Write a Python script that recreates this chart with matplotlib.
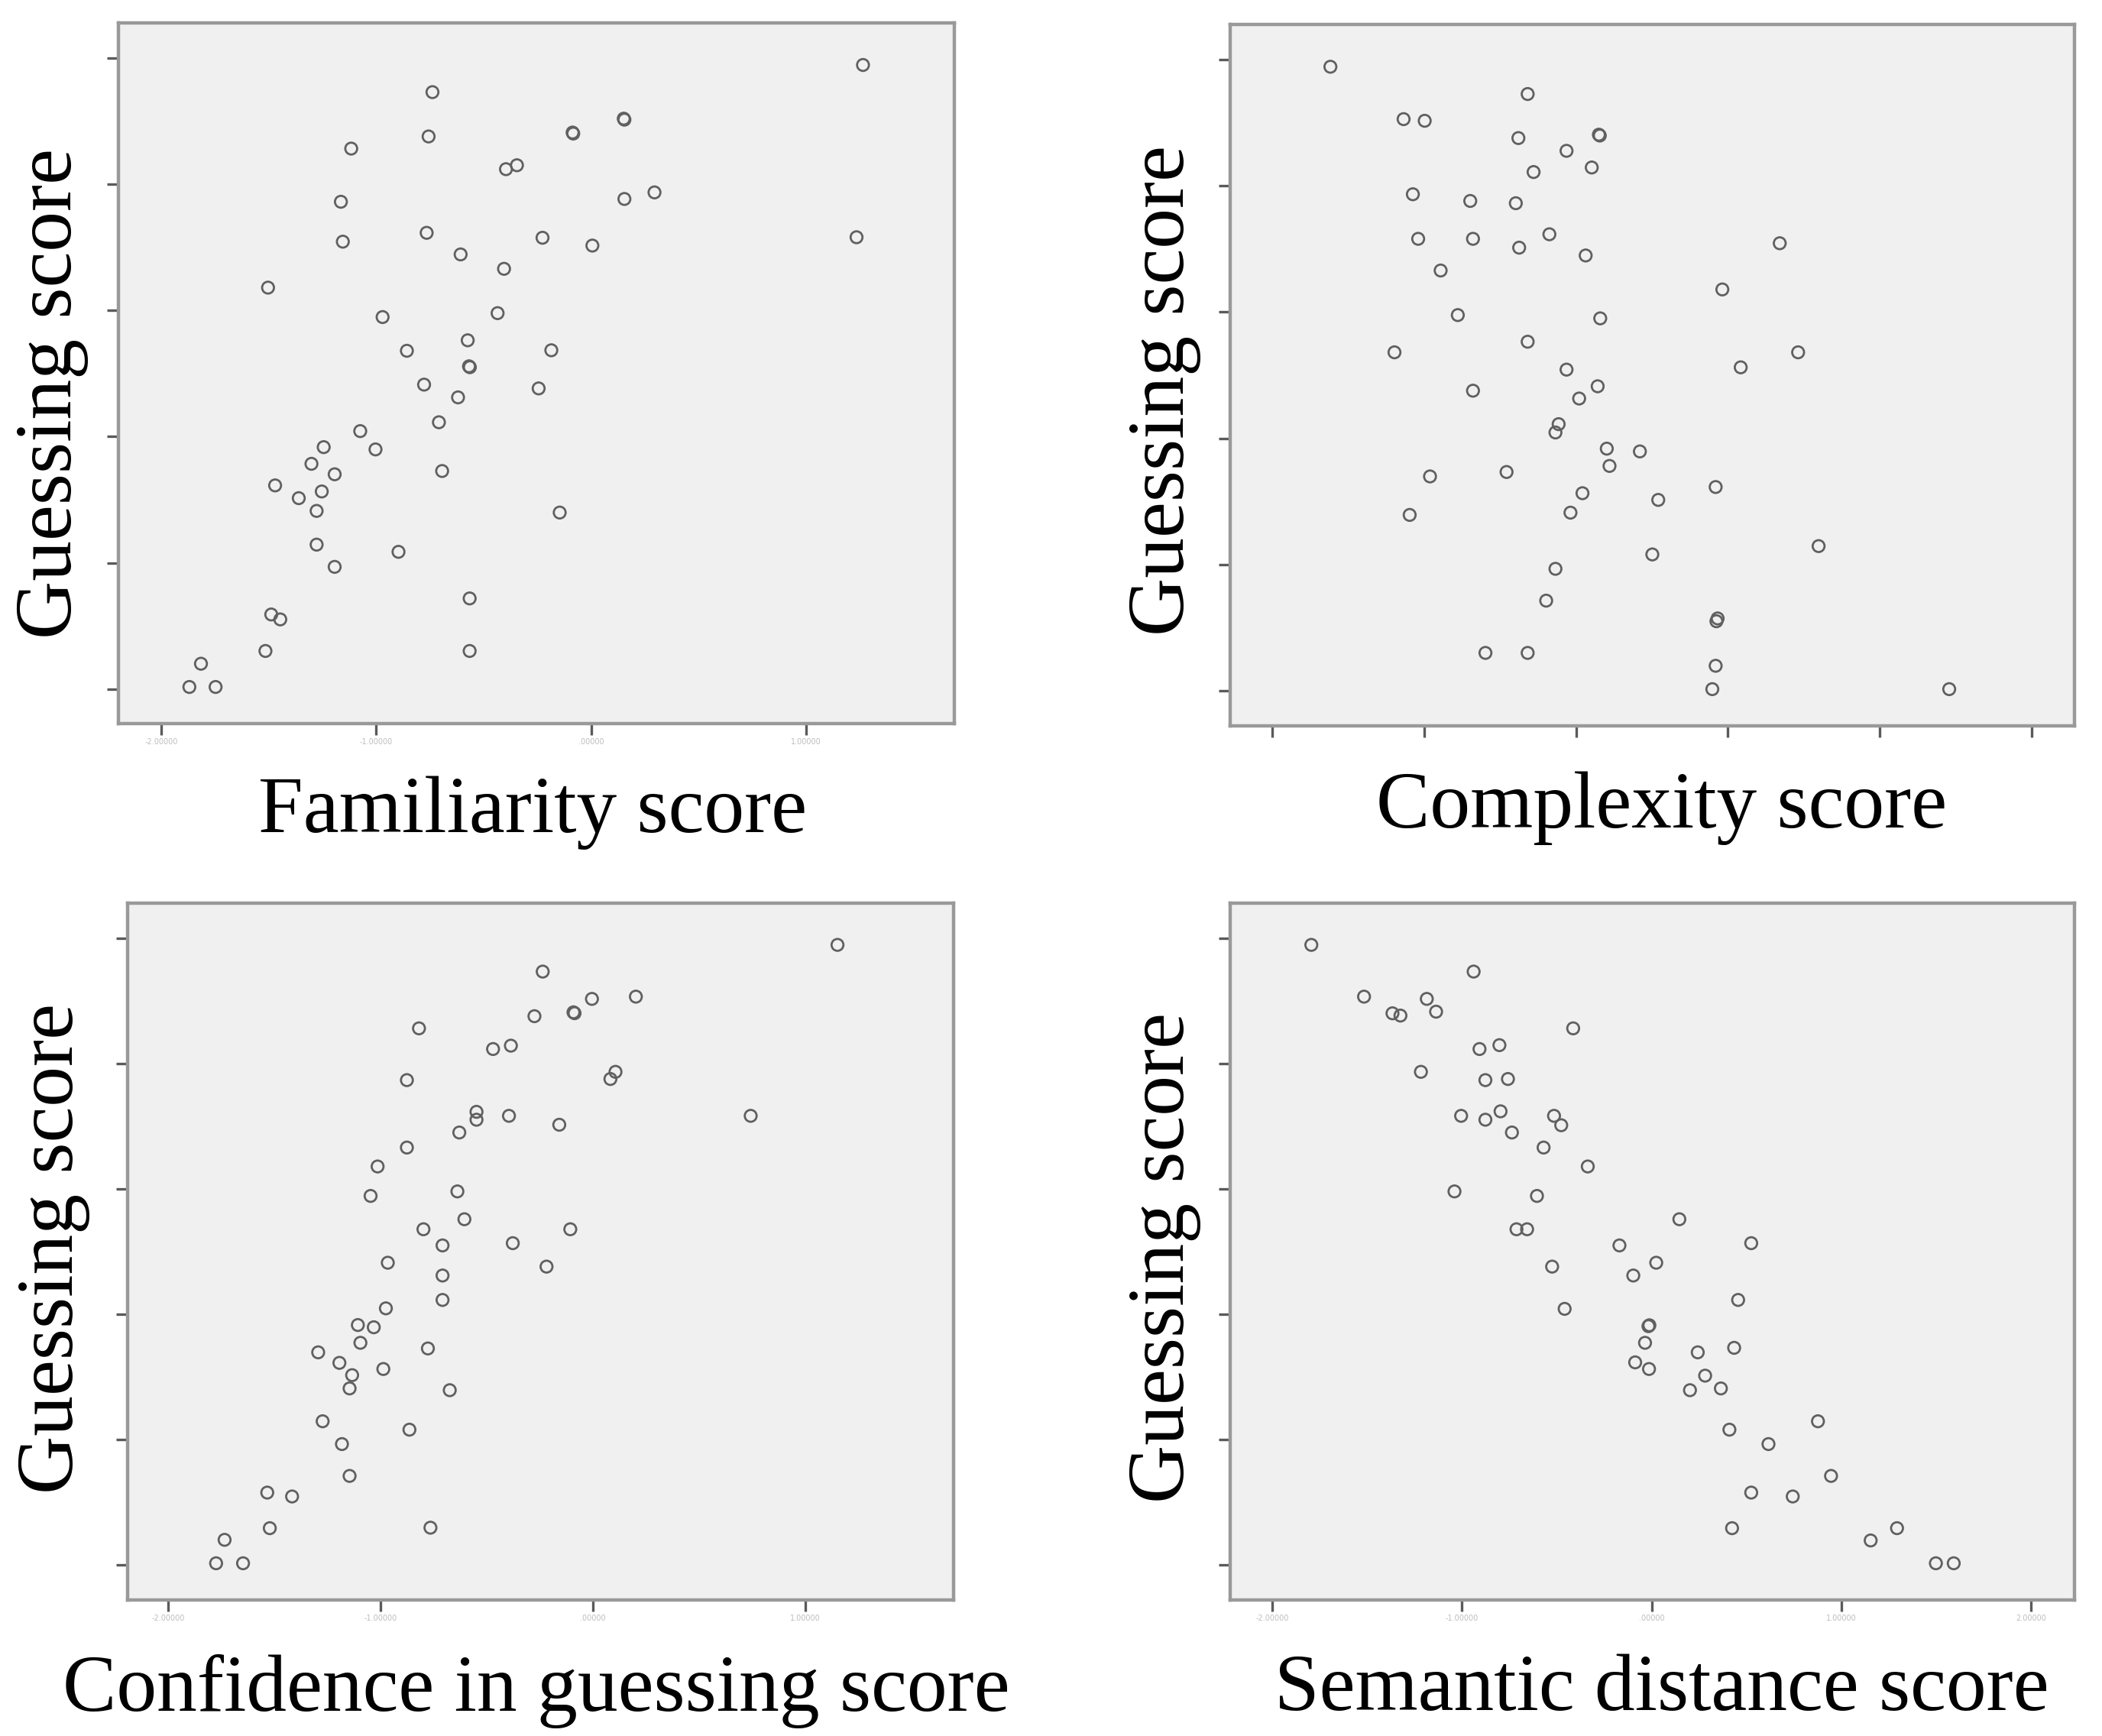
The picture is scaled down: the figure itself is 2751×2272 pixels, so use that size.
import matplotlib
matplotlib.use("Agg")
import matplotlib.pyplot as plt

# ---------------- data (in tick units) ----------------
fam_x = [3.265, 1.262, 2.152, 2.155, 1.914, 1.917, 1.244, 0.884, 1.604, 1.655, 2.295, 2.155,
         0.836, 1.235, 1.774, 3.235, 0.845, 2.006, 1.393, 1.595, 0.497, 1.030, 1.565, 1.426,
         1.143, 1.815, 1.432, 1.436, 1.223, 1.756, 1.381, 1.292, 0.926, 0.756, 0.997, 0.699,
         0.807, 1.307, 0.530, 0.747, 0.640, 0.723, 1.854, 0.723, 1.104, 0.807, 1.435, 0.512,
         0.554, 0.485, 1.435, 0.185, 0.131, 0.253]
fam_y = [4.943, 4.728, 4.518, 4.510, 4.408, 4.400, 4.377, 4.281, 4.118, 4.149, 3.934, 3.882,
         3.860, 3.614, 3.575, 3.579, 3.544, 3.513, 3.443, 3.329, 3.180, 2.947, 2.978, 2.763,
         2.680, 2.684, 2.557, 2.550, 2.412, 2.382, 2.311, 2.114, 2.044, 1.917, 1.899, 1.785,
         1.702, 1.728, 1.614, 1.566, 1.513, 1.412, 1.399, 1.145, 1.088, 0.969, 0.719, 0.592,
         0.553, 0.303, 0.303, 0.202, 0.018, 0.018]

cpx_x = [0.382, 1.681, 0.864, 1.003, 1.620, 2.150, 2.156, 1.937, 1.720, 2.103, 0.925, 1.303,
         1.603, 0.960, 1.321, 1.824, 1.625, 2.063, 3.341, 1.108, 2.963, 1.221, 2.159, 1.681,
         0.804, 3.462, 1.937, 3.084, 2.142, 1.321, 2.020, 1.885, 1.864, 2.202, 2.420, 2.220,
         1.038, 1.542, 2.919, 2.042, 2.541, 0.904, 1.963, 3.597, 2.502, 1.864, 1.803, 2.932,
         2.924, 1.403, 1.681, 2.919, 2.897, 4.457]
cpx_y = [4.943, 4.727, 4.528, 4.515, 4.378, 4.405, 4.398, 4.277, 4.109, 4.145, 3.933, 3.880,
         3.862, 3.580, 3.580, 3.616, 3.510, 3.448, 3.545, 3.329, 3.179, 2.976, 2.950, 2.765,
         2.681, 2.681, 2.544, 2.562, 2.412, 2.377, 2.315, 2.112, 2.046, 1.918, 1.896, 1.781,
         1.698, 1.733, 1.614, 1.565, 1.512, 1.393, 1.411, 1.146, 1.080, 0.966, 0.714, 0.573,
         0.551, 0.300, 0.300, 0.198, 0.013, 0.013]

con_x = [3.153, 1.764, 1.996, 2.203, 1.909, 1.914, 1.725, 1.181, 1.530, 1.614, 2.107, 2.083,
         1.124, 1.452, 1.452, 1.605, 2.744, 1.842, 1.371, 1.124, 0.986, 1.362, 0.953, 1.395,
         1.202, 1.894, 1.292, 1.623, 1.034, 1.782, 1.292, 1.292, 1.025, 0.893, 0.968, 0.905,
         1.223, 0.706, 0.806, 1.013, 0.866, 0.854, 1.326, 0.727, 1.136, 0.818, 0.854, 0.466,
         0.583, 1.235, 0.478, 0.265, 0.225, 0.352]
con_y = [4.947, 4.734, 4.516, 4.534, 4.409, 4.402, 4.378, 4.281, 4.116, 4.143, 3.934, 3.877,
         3.868, 3.615, 3.552, 3.583, 3.583, 3.512, 3.450, 3.330, 3.179, 2.980, 2.944, 2.758,
         2.678, 2.678, 2.549, 2.567, 2.411, 2.380, 2.309, 2.114, 2.047, 1.914, 1.896, 1.772,
         1.727, 1.696, 1.612, 1.563, 1.514, 1.408, 1.394, 1.146, 1.079, 0.964, 0.710, 0.577,
         0.546, 0.297, 0.293, 0.200, 0.013, 0.013]

sem_x = [0.205, 1.061, 0.483, 0.814, 0.633, 0.675, 0.863, 1.586, 1.092, 1.197, 0.783, 1.123,
         1.242, 0.995, 1.123, 1.203, 1.485, 1.523, 1.263, 1.430, 1.663, 0.960, 1.395, 2.146,
         1.287, 1.343, 1.830, 2.525, 2.024, 1.475, 1.903, 2.456, 1.541, 1.983, 1.988, 1.965,
         2.243, 2.435, 1.913, 1.986, 2.282, 2.202, 2.365, 2.877, 2.410, 2.616, 2.946, 2.525,
         2.744, 2.424, 3.294, 3.155, 3.499, 3.593]
sem_y = [4.947, 4.734, 4.534, 4.516, 4.401, 4.383, 4.414, 4.281, 4.116, 4.147, 3.934, 3.868,
         3.877, 3.583, 3.552, 3.619, 3.583, 3.508, 3.450, 3.330, 3.179, 2.980, 2.944, 2.758,
         2.678, 2.678, 2.549, 2.567, 2.411, 2.380, 2.309, 2.114, 2.043, 1.905, 1.912, 1.772,
         1.696, 1.732, 1.616, 1.563, 1.510, 1.394, 1.408, 1.146, 1.079, 0.964, 0.710, 0.577,
         0.546, 0.293, 0.293, 0.195, 0.013, 0.013]

y_label = "Guessing score"
x_labels = ["Familiarity score", "Complexity score",
            "Confidence in guessing score", "Semantic distance score"]

fam_ticks = ["-2.00000", "-1.00000", ".00000", "1.00000"]
cpx_ticks = ["", "", "", "", "", ""]
con_ticks = ["-2.00000", "-1.00000", ".00000", "1.00000"]
sem_ticks = ["-2.00000", "-1.00000", ".00000", "1.00000", "2.00000"]

y_ticks = [0, 1, 2, 3, 4, 5]

# ---------------- layout ----------------
W, H = 2751, 2272
fig = plt.figure(figsize=(W / 100, H / 100), dpi=100)
fig.patch.set_facecolor("white")

serif = ["Liberation Serif", "DejaVu Serif"]

panels = [
    (fam_x, fam_y, fam_ticks, (155, 30, 1249, 947), (-0.199, 3.690), (-0.272, 5.276),
     (68, 515), (697, 1064)),
    (cpx_x, cpx_y, cpx_ticks, (1610, 32, 2715, 950), (-0.278, 5.282), (-0.278, 5.278),
     (1524, 511), (2175, 1058)),
    (con_x, con_y, con_ticks, (167, 1182, 1248, 2094), (-0.192, 3.700), (-0.280, 5.280),
     (70, 1634), (702, 2213)),
    (sem_x, sem_y, sem_ticks, (1610, 1182, 2715, 2094), (-0.223, 4.230), (-0.280, 5.280),
     (1524, 1646), (2175, 2213)),
]

for i, (xs, ys, tlabels, rect, xlim, ylim, ylc, xlc) in enumerate(panels):
    l, t, r, b = rect
    ax = fig.add_axes([l / W, 1 - b / H, (r - l) / W, (b - t) / H])
    ax.set_facecolor("#f0f0f0")
    ax.scatter(xs, ys, s=125, facecolors="none", edgecolors="#606060", linewidths=2.0, zorder=3)
    ax.set_xlim(*xlim)
    ax.set_ylim(*ylim)
    ax.set_xticks(list(range(len(tlabels))))
    ax.set_xticklabels(tlabels, fontsize=7, color="#bdbdbd")
    ax.set_yticks(y_ticks)
    ax.set_yticklabels([""] * len(y_ticks))
    ax.tick_params(axis="both", direction="out", length=11, width=2.4, color="#5a5a5a", pad=3)
    for sp in ax.spines.values():
        sp.set_color("#999999")
        sp.set_linewidth(3.2)
    fig.text(ylc[0] / W, 1 - ylc[1] / H, y_label, rotation=90, ha="center", va="center",
             fontsize=76, family=serif, color="black")
    fig.text(xlc[0] / W, 1 - xlc[1] / H, x_labels[i], ha="center", va="center",
             fontsize=76, family=serif, color="black")

fig.savefig("out.png", dpi=100, facecolor="white")
